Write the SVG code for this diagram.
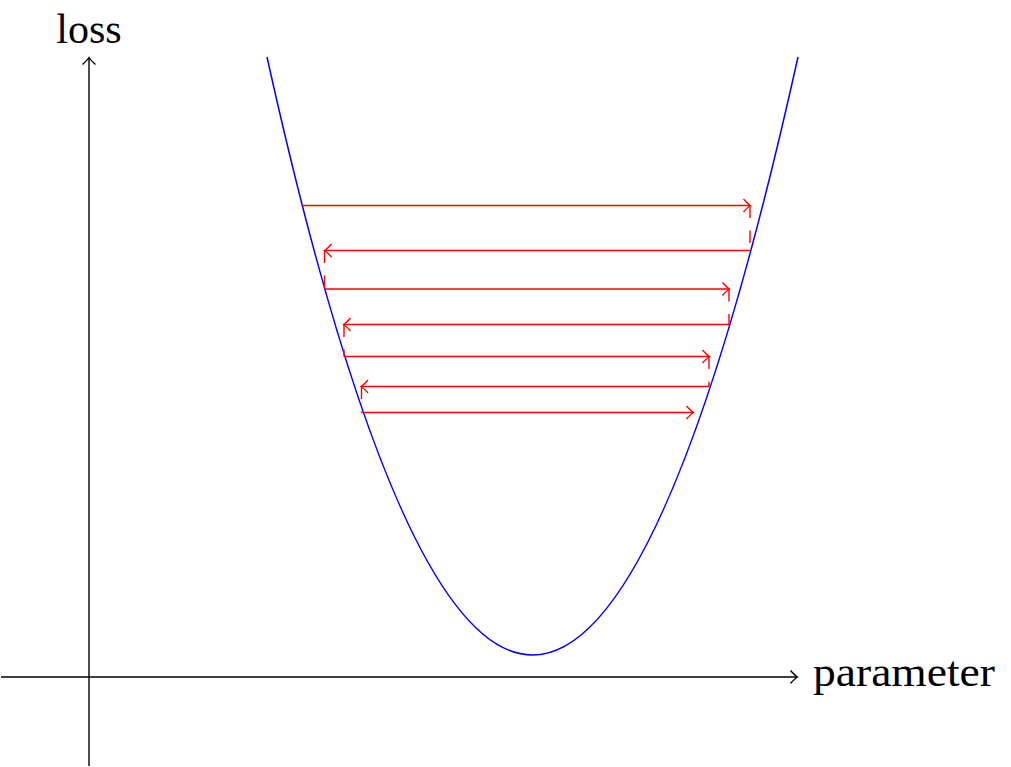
<svg xmlns="http://www.w3.org/2000/svg" width="1011" height="767" viewBox="0 0 1011 767">
<style>
.ax{stroke:#000;stroke-width:1.4;fill:none}
.rd{stroke:#ff0000;stroke-width:1.4;fill:none}
.dsh{stroke:#ff0000;stroke-width:1.4;fill:none;stroke-dasharray:12.5 12.5}
.lbl{font-family:"Liberation Serif",serif;font-size:42px;fill:#000}
</style>
<defs>
<marker id="ab" markerUnits="userSpaceOnUse" markerWidth="20" markerHeight="20" refX="10" refY="10" orient="auto" viewBox="0 0 20 20">
<path d="M3.5,3.5 Q8,8.5 10.5,10 Q8,11.5 3.5,16.5" fill="none" stroke="#000" stroke-width="1.4"/>
</marker>
<marker id="ar" markerUnits="userSpaceOnUse" markerWidth="20" markerHeight="20" refX="10" refY="10" orient="auto" viewBox="0 0 20 20">
<path d="M3.5,3.5 Q8,8.5 10.5,10 Q8,11.5 3.5,16.5" fill="none" stroke="#ff0000" stroke-width="1.4"/>
</marker>
</defs>
<g id="axes">
<line class="ax" x1="1" y1="677" x2="797" y2="677" marker-end="url(#ab)"/>
<line class="ax" x1="89" y1="766" x2="89" y2="58" marker-end="url(#ab)"/>
</g>
<g id="labels">
<text class="lbl" x="89" y="43" text-anchor="middle">loss</text>
<text class="lbl" x="813" y="686" textLength="182" lengthAdjust="spacingAndGlyphs">parameter</text>
</g>
<g id="curve">
<path d="M267,57 Q532.5,1253 798,57" fill="none" stroke="#0000ff" stroke-width="1.5"/>
</g>
<g id="connectors">
<line class="rd" x1="302" y1="205.5" x2="750" y2="205.5" marker-end="url(#ar)"/>
<line class="dsh" x1="750" y1="205.5" x2="750" y2="250.5"/>
<line class="rd" x1="750" y1="250.5" x2="325" y2="250.5" marker-end="url(#ar)"/>
<line class="dsh" x1="324.5" y1="250.5" x2="324.5" y2="289"/>
<line class="rd" x1="324.5" y1="289" x2="729" y2="289" marker-end="url(#ar)"/>
<line class="dsh" x1="729" y1="289" x2="729" y2="324.5"/>
<line class="rd" x1="729" y1="324.5" x2="344" y2="324.5" marker-end="url(#ar)"/>
<line class="dsh" x1="344" y1="324.5" x2="344" y2="356.5"/>
<line class="rd" x1="344" y1="356.5" x2="709" y2="356.5" marker-end="url(#ar)"/>
<line class="dsh" x1="709" y1="356.5" x2="709" y2="386.5"/>
<line class="rd" x1="709" y1="386.5" x2="361.5" y2="386.5" marker-end="url(#ar)"/>
<line class="dsh" x1="361.5" y1="386.5" x2="361.5" y2="412.5"/>
<line class="rd" x1="361.5" y1="412.5" x2="693" y2="412.5" marker-end="url(#ar)"/>
</g>
</svg>
